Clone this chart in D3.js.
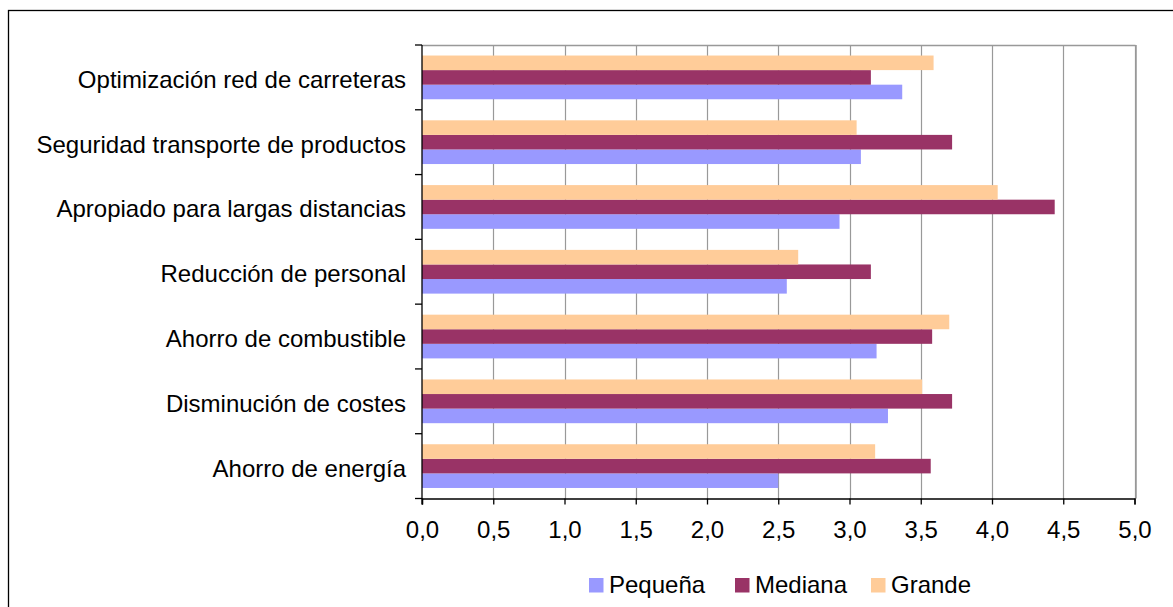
<!DOCTYPE html>
<html>
<head>
<meta charset="utf-8">
<script src="https://cdn.jsdelivr.net/npm/d3@7"></script>
<style>
  html, body { margin: 0; padding: 0; background: #fff; }
  svg { display: block; font-family: "Liberation Sans", Arial, sans-serif; }
</style>
</head>
<body>
<svg id="chart" width="1173" height="607"></svg>
<script>
// Categories, listed top to bottom
const categories = [
  "Optimización red de carreteras",
  "Seguridad transporte de productos",
  "Apropiado para largas distancias",
  "Reducción de personal",
  "Ahorro de combustible",
  "Disminución de costes",
  "Ahorro de energía"
];
// Mean ratings per company size
const pequena = [3.37, 3.08, 2.93, 2.56, 3.19, 3.27, 2.50];
const mediana = [3.15, 3.72, 4.44, 3.15, 3.58, 3.72, 3.57];
const grande  = [3.59, 3.05, 4.04, 2.64, 3.70, 3.51, 3.18];

const seriesNames = ["Pequeña", "Mediana", "Grande"];
const seriesColors = ["#9999FF", "#993366", "#FFCC99"];
const xTicks = [0, 0.5, 1, 1.5, 2, 2.5, 3, 3.5, 4, 4.5, 5];

const svg = d3.select("#chart");
const fontSize = 24;

// Outer chart frame
svg.append("rect")
  .attr("x", 8.5).attr("y", 10.5)
  .attr("width", 1200).attr("height", 700)
  .attr("fill", "none").attr("stroke", "#000").attr("stroke-width", 1.3);

const plot = { left: 422, top: 45, right: 1134.5, bottom: 498.5 };

const x = d3.scaleLinear().domain([0, 5]).range([plot.left, plot.right]);
const y0 = d3.scaleBand().domain(categories)
  .range([plot.top, plot.bottom])
  .paddingInner(0.325).paddingOuter(0.1625);
// within each group: Grande on top, then Mediana, then Pequeña
const y1 = d3.scaleBand().domain(["Grande", "Mediana", "Pequeña"])
  .range([0, y0.bandwidth()]);

// Gridlines and plot frame
svg.append("g").selectAll("line")
  .data(xTicks.slice(1))
  .join("line")
  .attr("x1", d => Math.round(x(d)) + 0.5).attr("x2", d => Math.round(x(d)) + 0.5)
  .attr("y1", plot.top).attr("y2", plot.bottom)
  .attr("stroke", "#999").attr("stroke-width", 1.2);
svg.append("line")
  .attr("x1", plot.left).attr("x2", plot.right + 1)
  .attr("y1", plot.top + 0.5).attr("y2", plot.top + 0.5)
  .attr("stroke", "#999").attr("stroke-width", 1.5);
svg.append("line")
  .attr("x1", Math.round(x(5)) + 1).attr("x2", Math.round(x(5)) + 1)
  .attr("y1", plot.top).attr("y2", plot.bottom)
  .attr("stroke", "#999").attr("stroke-width", 1.5);

// Bars
const rows = categories.map((c, i) => ({
  cat: c,
  vals: [
    { s: "Pequeña", v: pequena[i], color: seriesColors[0] },
    { s: "Mediana", v: mediana[i], color: seriesColors[1] },
    { s: "Grande",  v: grande[i],  color: seriesColors[2] }
  ]
}));

svg.append("g").selectAll("g")
  .data(rows)
  .join("g")
  .attr("transform", d => `translate(0,${y0(d.cat)})`)
  .selectAll("rect")
  .data(d => d.vals)
  .join("rect")
  .attr("x", x(0))
  .attr("y", d => y1(d.s))
  .attr("width", d => x(d.v) - x(0))
  .attr("height", y1.bandwidth())
  .attr("fill", d => d.color);

// X axis
const xAxis = d3.axisBottom(x)
  .tickValues(xTicks)
  .tickSize(6)
  .tickFormat(d => d3.format(".1f")(d).replace(".", ","));
const gx = svg.append("g")
  .attr("transform", `translate(0,${plot.bottom})`)
  .call(xAxis);
gx.select(".domain").attr("stroke", "#000").attr("stroke-width", 1.3);
gx.selectAll(".tick line").attr("stroke", "#000").attr("stroke-width", 1.3);
gx.selectAll(".tick text")
  .attr("y", 0).attr("dy", 0)
  .attr("transform", "translate(0,39.5)")
  .style("font-size", fontSize + "px")
  .style("font-family", "'Liberation Sans', Arial, sans-serif")
  .attr("fill", "#000");

// Y axis: line with ticks at the category boundaries
const boundaries = d3.range(categories.length + 1)
  .map(i => plot.top + i * y0.step());
svg.append("line")
  .attr("x1", plot.left).attr("x2", plot.left)
  .attr("y1", plot.top).attr("y2", plot.bottom + 6)
  .attr("stroke", "#000").attr("stroke-width", 1.3);
svg.append("g").selectAll("line")
  .data(boundaries)
  .join("line")
  .attr("x1", plot.left - 7).attr("x2", plot.left)
  .attr("y1", d => d).attr("y2", d => d)
  .attr("stroke", "#000").attr("stroke-width", 1.3);

// Category labels
svg.append("g").selectAll("text")
  .data(categories)
  .join("text")
  .attr("x", plot.left - 16)
  .attr("y", d => y0(d) + y0.bandwidth() / 2 + 10.5)
  .attr("text-anchor", "end")
  .style("font-size", fontSize + "px")
  .attr("fill", "#000")
  .text(d => d);

// Legend
const legendItems = [
  { name: seriesNames[0], color: seriesColors[0], x: 589 },
  { name: seriesNames[1], color: seriesColors[1], x: 735 },
  { name: seriesNames[2], color: seriesColors[2], x: 871 }
];
const lg = svg.append("g").selectAll("g")
  .data(legendItems)
  .join("g")
  .attr("transform", d => `translate(${d.x},578)`);
lg.append("rect")
  .attr("width", 14.5).attr("height", 14.5)
  .attr("fill", d => d.color);
lg.append("text")
  .attr("x", 20).attr("y", 15)
  .style("font-size", fontSize + "px")
  .attr("fill", "#000")
  .text(d => d.name);
</script>
</body>
</html>
